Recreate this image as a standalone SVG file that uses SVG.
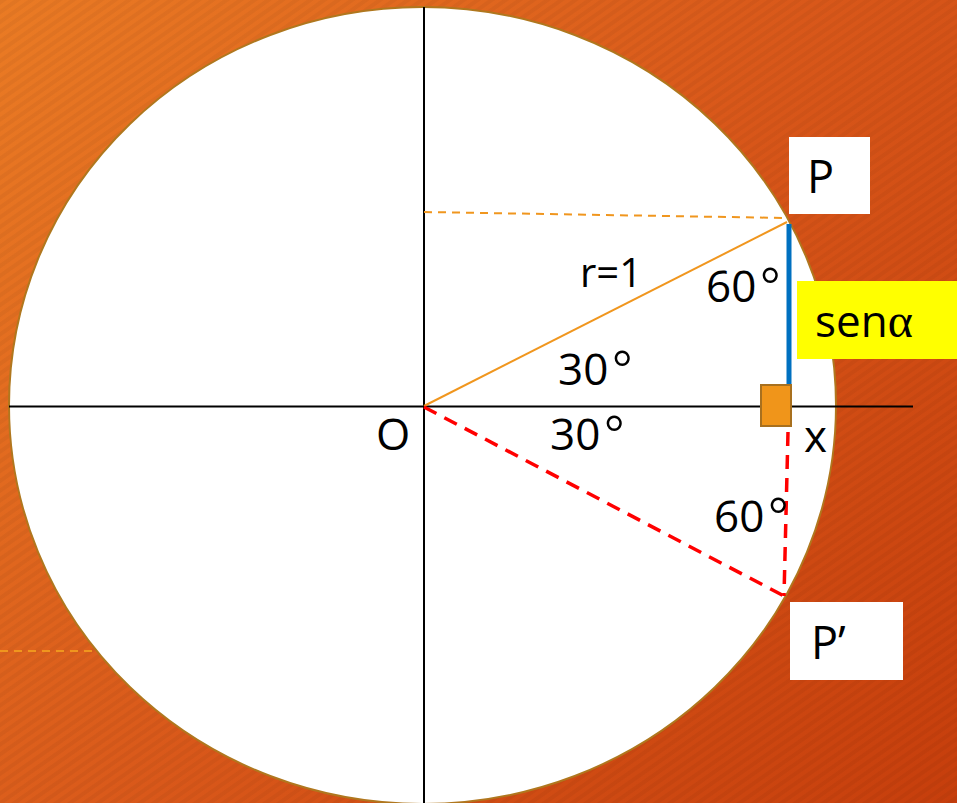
<svg xmlns="http://www.w3.org/2000/svg" width="957" height="803" viewBox="0 0 957 803">
<defs>
<linearGradient id="bg" x1="0" y1="0" x2="957" y2="803" gradientUnits="userSpaceOnUse">
<stop offset="0" stop-color="#EA7B24"/>
<stop offset="0.5" stop-color="#D9581A"/>
<stop offset="1" stop-color="#C63E0C"/>
</linearGradient>
<pattern id="stripes" width="8" height="8" patternUnits="userSpaceOnUse" patternTransform="rotate(-35)">
<rect width="8" height="4" fill="#000" fill-opacity="0.04"/>
</pattern>
</defs>
<style>
.lbl{font-family:"Open Sans","Noto Sans","Liberation Sans",sans-serif;fill:#000;}
.deg{font-family:"Liberation Serif","DejaVu Serif",serif;font-size:50px;}
.axis{stroke:#000;stroke-width:2;fill:none;}
.orange{stroke:#F0961E;stroke-width:2;fill:none;}
.odash{stroke:#F0961E;stroke-width:2;fill:none;stroke-dasharray:8 6;}
.red{stroke:#FF0000;stroke-width:3.5;fill:none;stroke-dasharray:14 9;}
.box{fill:#FFFFFF;}
</style>
<rect width="957" height="803" fill="url(#bg)"/>
<rect width="957" height="803" fill="url(#stripes)"/>
<line x1="0" y1="651" x2="97" y2="651" class="odash"/>
<g id="circle">
<ellipse cx="422.5" cy="405.5" rx="413.5" ry="398.5" fill="#FFFFFF" stroke="#B0771E" stroke-width="2"/>
</g>
<g id="connectors">
<line x1="9" y1="406.5" x2="913" y2="406.5" class="axis"/>
<line x1="424" y1="7" x2="424" y2="803" class="axis"/>
<line x1="424" y1="212" x2="786" y2="218" class="odash"/>
<line x1="424" y1="406" x2="787" y2="222" class="orange"/>
<line x1="789" y1="224" x2="789" y2="386" stroke="#0070C0" stroke-width="5"/>
<line x1="424" y1="407" x2="784" y2="596" class="red"/>
<line x1="788" y1="432" x2="784" y2="596" class="red"/>
</g>
<g id="right-angle">
<rect x="761" y="385" width="30" height="41" fill="#F0951A" stroke="#A8701E" stroke-width="2"/>
</g>
<g id="label-P">
<rect x="789" y="137" width="81" height="77" class="box"/>
<text x="807" y="193" class="lbl" font-size="45">P</text>
</g>
<g id="label-sen">
<rect x="797" y="281" width="160" height="78" fill="#FFFF00"/>
<text x="815" y="337" class="lbl" font-size="44">sen<tspan style="font-family:'Liberation Serif','DejaVu Serif',serif" font-size="48">α</tspan></text>
</g>
<g id="label-Pprime">
<rect x="790" y="602" width="113" height="78" class="box"/>
<text x="811" y="659" class="lbl" font-size="45">P’</text>
</g>
<g id="label-r">
<text x="580" y="287" class="lbl" font-size="40">r=1</text>
</g>
<g id="label-60-top">
<text x="706" y="302" class="lbl" font-size="44">60<tspan class="deg" dx="4" dy="-1">°</tspan></text>
</g>
<g id="label-30-top">
<text x="558" y="385" class="lbl" font-size="44">30<tspan class="deg" dx="4" dy="-1">°</tspan></text>
</g>
<g id="label-30-bottom">
<text x="550" y="450" class="lbl" font-size="44">30<tspan class="deg" dx="4" dy="-1">°</tspan></text>
</g>
<g id="label-O">
<text x="376" y="450" class="lbl" font-size="44">O</text>
</g>
<g id="label-x">
<text x="804" y="452" class="lbl" font-size="44">x</text>
</g>
<g id="label-60-bottom">
<text x="714" y="532" class="lbl" font-size="44">60<tspan class="deg" dx="4" dy="-1">°</tspan></text>
</g>
</svg>
